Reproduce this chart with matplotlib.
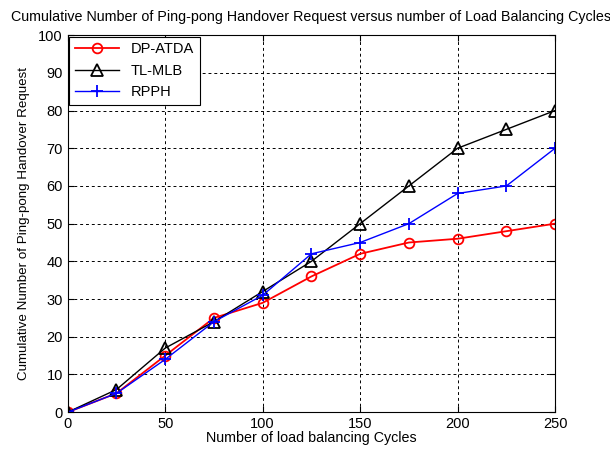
import matplotlib
matplotlib.use('Agg')
import matplotlib.pyplot as plt

plt.rcParams['font.family'] = ['Liberation Sans', 'DejaVu Sans']

# data
cycles = [0, 25, 50, 75, 100, 125, 150, 175, 200, 225, 250]
dp_atda = [0, 5, 15, 25, 29, 36, 42, 45, 46, 48, 50]
tl_mlb = [0, 6, 17, 24, 32, 40, 50, 60, 70, 75, 80]
rpph = [0, 5, 14, 24, 31, 42, 45, 50, 58, 60, 70]

fig = plt.figure(figsize=(6.1, 4.5), dpi=100)
ax = fig.add_axes([0.111, 0.084, 0.799, 0.838])

ax.plot(cycles, dp_atda, color='red', marker='o', markersize=7,
        markerfacecolor='none', markeredgewidth=1.3, linewidth=1.3,
        label='DP-ATDA')
ax.plot(cycles, tl_mlb, color='black', marker='^', markersize=8,
        markerfacecolor='none', markeredgewidth=1.3, linewidth=1.0,
        label='TL-MLB')
ax.plot(cycles, rpph, color='blue', marker='+', markersize=8,
        markeredgewidth=1.3, linewidth=1.0, label='RPPH')

ax.set_xlim(0, 250)
ax.set_ylim(0, 100)
ax.set_xticks(range(0, 251, 50))
ax.set_yticks(range(0, 101, 10))
ax.grid(True, linestyle=(0, (3, 3)), color='black', linewidth=0.7)
ax.tick_params(direction='in', labelsize=10.5, length=4, top=True, right=True)
for s in ax.spines.values():
    s.set_linewidth(0.8)

ax.set_title('Cumulative Number of Ping-pong Handover Request versus number of Load Balancing Cycles',
             fontsize=10.3, pad=10)
ax.set_xlabel('Number of load balancing Cycles', fontsize=10.3, labelpad=0)
ax.set_ylabel('Cumulative Number of Ping-pong Handover Request', fontsize=9.6,
              labelpad=6)

leg = ax.legend(loc='upper left', fontsize=10.5, fancybox=False, framealpha=1,
                edgecolor='black', borderaxespad=0.1, handlelength=3)
leg.get_frame().set_linewidth(0.8)

fig.savefig('out.png', dpi=100)
